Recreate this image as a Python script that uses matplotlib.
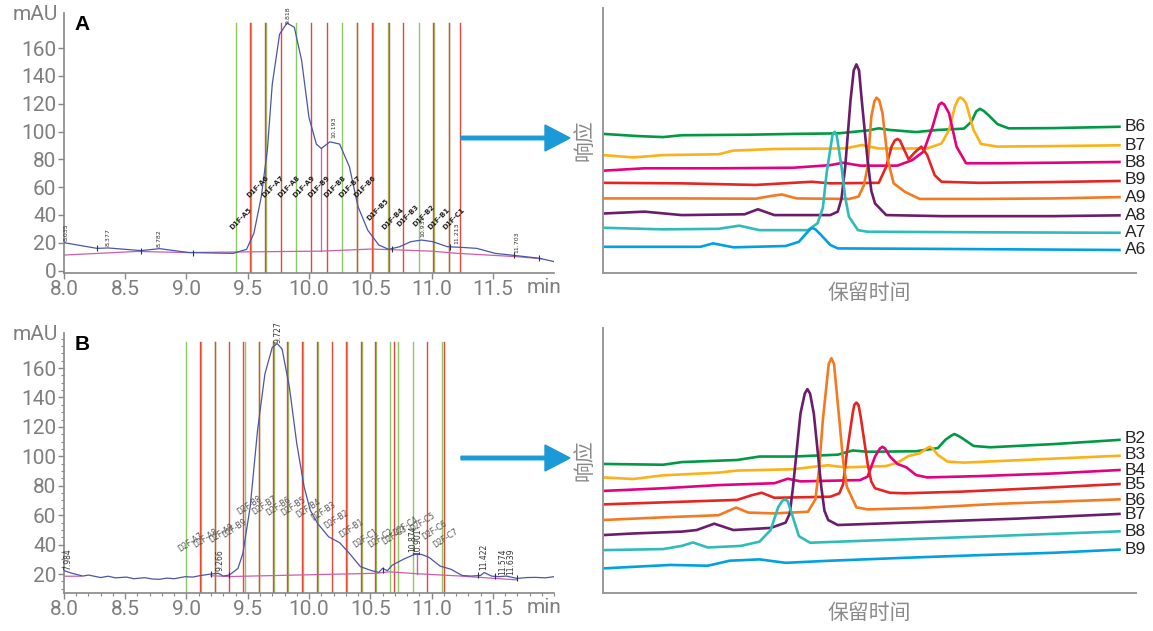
import matplotlib
matplotlib.use("Agg")
import matplotlib.pyplot as plt
from matplotlib.patches import FancyArrow
from matplotlib.ticker import MultipleLocator
import matplotlib.transforms as mtransforms

plt.rcParams['font.family'] = ['Roboto', 'Noto Sans CJK SC', 'DejaVu Sans']

# ── 数据：A 色谱 (min, mAU) ──
a_t = [8.0, 8.27, 8.36, 8.63, 8.78, 9.02, 9.38, 9.49, 9.55, 9.61, 9.66, 9.70, 9.76, 9.82,
       9.88, 9.94, 10.0, 10.06, 10.10, 10.17, 10.25, 10.33, 10.40, 10.48, 10.57, 10.65,
       10.74, 10.83, 10.92, 11.01, 11.13, 11.25, 11.37, 11.52, 11.67, 11.88, 12.0]
a_mau = [20.1, 16.0, 16.3, 14.4, 15.8, 13.0, 12.4, 15.3, 26.8, 53.0, 86.6, 134.0, 170.0, 178.0,
         175.0, 151.0, 110.0, 91.0, 87.8, 92.6, 91.0, 74.6, 46.0, 29.0, 18.4, 15.3,
         17.2, 20.8, 22.0, 20.8, 17.2, 16.7, 16.0, 12.4, 11.0, 8.9, 6.5]
a_base_t = [8.0, 8.6, 9.0, 9.5, 10.1, 10.5, 10.7, 11.0, 11.2, 11.7, 11.9]
a_base = [11.2, 13.8, 13.0, 13.5, 14.0, 15.5, 15.0, 14.0, 12.5, 10.0, 8.5]
a_green = [9.40, 9.525, 9.65, 9.895, 10.27, 10.395, 10.52, 10.645, 10.895, 11.02, 11.145]
a_red = [9.515, 9.64, 9.77, 10.02, 10.145, 10.39, 10.515, 10.65, 10.77, 11.015, 11.14, 11.235]
a_frac = ['D1F-A5', 'D1F-A6', 'D1F-A7', 'D1F-A8', 'D1F-A9', 'D1F-B9', 'D1F-B8', 'D1F-B7',
          'D1F-B6', 'D1F-B5', 'D1F-B4', 'D1F-B3', 'D1F-B2', 'D1F-B1', 'D1F-C1']
a_frac_t = [9.38, 9.52, 9.645, 9.77, 9.895, 10.02, 10.145, 10.27, 10.395, 10.50, 10.62,
            10.74, 10.87, 11.0, 11.12]
a_frac_y = [29, 52, 52, 52, 52, 52, 52, 52, 52, 35, 29, 31, 31, 29, 29]
a_rt = ['8.035', '8.377', '8.782', '9.818', '10.193', '10.931', '11.213', '11.703']
a_rt_t = [8.02, 8.36, 8.78, 9.83, 10.20, 10.93, 11.21, 11.70]
a_rt_y = [21, 18, 17, 177, 95, 24, 19, 13]
a_mark_t = [8.27, 8.63, 9.05, 10.68, 11.15, 11.67, 11.88]
a_mark_y = [16.0, 14.4, 13.0, 15.3, 17.0, 11.0, 8.9]

# ── 数据：B 色谱 ──
b_t = [8.0, 8.065, 8.155, 8.20, 8.24, 8.30, 8.36, 8.42, 8.51, 8.57, 8.66, 8.72, 8.78, 8.84,
       8.9, 8.99, 9.05, 9.11, 9.2, 9.26, 9.30, 9.35, 9.42, 9.46, 9.52, 9.58, 9.64, 9.70,
       9.74, 9.78, 9.84, 9.90, 9.96, 10.01, 10.07, 10.16, 10.25, 10.33, 10.42, 10.51, 10.57,
       10.60, 10.64, 10.68, 10.77, 10.86, 10.92, 10.98, 11.07, 11.16, 11.25, 11.32, 11.40,
       11.43, 11.49, 11.55, 11.61, 11.70, 11.78, 11.85, 11.93, 12.0]
b_mau = [22.3, 20.5, 18.6, 19.3, 18.6, 17.6, 18.5, 17.4, 17.9, 16.8, 17.5, 16.6, 16.4, 17.2,
         16.8, 18.2, 17.9, 18.9, 20.0, 20.5, 18.6, 19.3, 23.8, 34.0, 65.7, 117.7, 156.0, 174.0,
         176.6, 173.0, 147.0, 108.7, 79.3, 63.4, 54.4, 45.3, 41.3, 34.0, 25.0, 22.3, 21.1,
         23.8, 22.3, 26.0, 30.0, 33.3, 33.3, 31.3, 25.4, 23.2, 19.0, 18.6, 19.0,
         21.0, 18.6, 18.2, 18.6, 17.0, 17.6, 17.7, 17.4, 18.2]
b_base_t = [8.0, 8.14, None, 9.2, 9.36, 10.55, 10.65, 10.88, 11.22, 11.7]
b_base = [18.5, 18.5, None, 18.8, 18.3, 20.5, 21.5, 20.2, 18.7, 16.0]
b_green = [9.0, 9.12, 9.235, 9.475, 9.595, 9.715, 9.83, 9.955, 10.075, 10.31, 10.43,
           10.545, 10.665, 10.725, 10.845, 11.085]
b_red = [9.11, 9.23, 9.35, 9.465, 9.59, 9.705, 9.82, 9.945, 10.065, 10.185, 10.305,
         10.425, 10.54, 10.69, 10.965, 11.10]
b_frac = ['D2F-A7', 'D2F-A8', 'D2F-A9', 'D2F-B9', 'D2F-B8', 'D2F-B7', 'D2F-B6', 'D2F-B5',
          'D2F-B4', 'D2F-B3', 'D2F-B2', 'D2F-B1', 'D2F-C1', 'D2F-C2', 'D2F-C3', 'D2F-C4',
          'D2F-C5', 'D2F-C6', 'D2F-C7']
b_frac_t = [8.96, 9.08, 9.21, 9.32, 9.44, 9.56, 9.68, 9.80, 9.92, 10.04, 10.15, 10.27,
            10.39, 10.51, 10.62, 10.71, 10.85, 10.95, 11.04]
b_frac_y = [34, 36.3, 39.7, 43, 59, 59, 58.5, 58.5, 57, 55, 49.4, 43, 36.7, 36.3, 38.5,
            45, 47.6, 42, 36.3]
b_rt = ['7.984', '9.266', '9.727', '10.874', '10.901', '11.422', '11.574', '11.639']
b_rt_t = [8.03, 9.27, 9.745, 10.85, 10.89, 11.43, 11.585, 11.645]
b_rt_y = [23, 22, 177, 35, 33, 23, 19, 19]
b_mark_t = [9.2, 9.35, 10.6, 11.38, 11.52, 11.7]
b_mark_y = [20.0, 19.0, 22.5, 19.0, 18.5, 17.0]

# ── 数据：右侧叠加谱图（任意单位） ──
top_names = ['B6', 'B7', 'B8', 'B9', 'A9', 'A8', 'A7', 'A6']
top_label_y = [55.2, 48.2, 41.6, 35.1, 28.6, 21.8, 15.3, 8.6]
top_x = [
    [0, 6.3, 11.2, 14.7, 27.2, 35.6, 44.0, 49.6, 51.7, 53.8, 58.7, 62.8, 67.7, 69.1, 70.0, 70.7, 71.4, 72.3, 74.0, 76.1, 84.5, 96.9],
    [0, 5.6, 11.2, 21.6, 24.4, 32.1, 45.4, 48.5, 51.7, 60.8, 63.5, 64.9, 66.0, 66.6, 67.0, 67.5, 68.1, 69.5, 70.9, 74.0, 84.5, 96.9],
    [0, 7.7, 21.6, 35.6, 42.6, 45.0, 48.2, 55.2, 58.0, 60.1, 61.8, 63.0, 63.5, 64.0, 64.9, 66.3, 68.1, 74.0, 84.5, 96.9],
    [0, 14.7, 28.6, 39.1, 42.6, 51.7, 53.1, 54.1, 54.7, 55.2, 55.7, 56.2, 57.3, 58.4, 59.7, 60.8, 62.2, 63.5, 70.5, 84.5, 96.9],
    [0, 14.7, 28.6, 31.4, 33.5, 36.3, 46.1, 47.9, 48.9, 49.6, 50.3, 50.9, 51.3, 51.8, 52.4, 53.4, 54.5, 56.6, 59.4, 70.5, 84.5, 96.9],
    [0, 7.7, 14.7, 26.5, 29.0, 32.1, 42.6, 44.0, 44.7, 45.4, 46.4, 47.0, 47.5, 48.0, 48.5, 49.6, 50.3, 51.0, 53.1, 63.5, 84.5, 96.9],
    [0, 11.2, 21.6, 25.5, 29.3, 38.4, 40.2, 41.2, 41.9, 43.0, 43.4, 43.8, 44.7, 45.4, 46.1, 47.8, 49.6, 70.5, 96.9],
    [0, 18.2, 20.6, 24.4, 34.2, 36.7, 38.1, 38.9, 39.3, 39.8, 40.9, 42.6, 44.0, 63.5, 96.9],
]
top_y = [
    [52.5, 51.7, 51.3, 52.0, 52.2, 52.5, 52.7, 53.8, 54.6, 54.0, 53.2, 54.0, 54.5, 57.1, 61.0, 62.0, 61.2, 59.6, 56.2, 54.6, 54.7, 55.2],
    [44.5, 43.6, 44.5, 44.8, 46.2, 46.8, 47.0, 48.3, 47.0, 47.0, 48.9, 54.0, 62.8, 65.6, 66.3, 65.7, 64.1, 54.0, 48.7, 47.7, 47.9, 48.2],
    [38.6, 39.5, 39.5, 39.7, 40.7, 41.6, 40.5, 40.5, 42.6, 45.8, 55.2, 63.5, 64.3, 63.6, 60.3, 47.7, 41.4, 41.4, 41.6, 41.9],
    [34.0, 33.8, 33.2, 34.4, 33.8, 34.0, 40.1, 47.7, 50.0, 50.6, 50.0, 47.7, 42.9, 45.4, 47.7, 44.5, 36.9, 34.4, 34.0, 34.3, 34.7],
    [28.1, 28.1, 28.0, 29.0, 29.6, 28.1, 27.9, 28.8, 33.0, 40.1, 59.0, 65.0, 66.2, 65.2, 60.3, 42.6, 33.8, 30.6, 27.9, 27.9, 28.1, 28.6],
    [22.4, 23.1, 21.8, 22.1, 24.0, 21.8, 21.8, 23.1, 28.0, 40.1, 65.3, 76.5, 78.8, 76.5, 65.3, 42.6, 31.0, 26.2, 21.8, 21.4, 21.4, 21.7],
    [17.0, 16.4, 16.6, 17.8, 16.1, 16.1, 18.7, 24.5, 37.6, 52.0, 53.3, 52.0, 40.1, 28.5, 21.2, 16.1, 15.5, 15.3, 15.1],
    [9.8, 9.8, 11.1, 9.6, 10.1, 11.7, 14.9, 16.6, 16.9, 16.4, 14.2, 10.5, 9.2, 9.0, 8.6],
]
bot_names = ['B2', 'B3', 'B4', 'B5', 'B6', 'B7', 'B8', 'B9']
bot_label_y = [58.4, 52.1, 46.2, 40.8, 35.0, 29.4, 23.1, 16.4]
bot_x = [
    [0, 11.2, 14.7, 25.1, 29.3, 35.6, 44.0, 46.8, 49.6, 58.7, 62.8, 64.2, 65.3, 65.9, 66.5, 67.4, 69.5, 72.6, 84.5, 96.9],
    [0, 5.6, 11.2, 21.6, 25.1, 35.6, 39.8, 42.2, 45.4, 53.1, 55.2, 57.3, 59.4, 60.8, 61.3, 61.8, 62.8, 64.6, 67.7, 81.0, 96.9],
    [0, 11.2, 21.6, 32.1, 34.6, 37.0, 48.2, 49.6, 51.0, 51.9, 52.4, 52.9, 53.8, 55.2, 56.9, 58.7, 60.8, 70.5, 84.5, 96.9],
    [0, 14.7, 25.1, 27.9, 29.7, 32.1, 42.6, 44.3, 45.0, 45.7, 46.8, 47.1, 47.5, 47.9, 48.3, 49.6, 50.3, 51.0, 53.8, 56.6, 67.0, 81.0, 96.9],
    [0, 11.2, 21.6, 24.9, 27.2, 32.1, 38.4, 39.8, 40.5, 41.2, 42.3, 42.8, 43.3, 44.3, 45.0, 45.7, 47.5, 49.6, 60.1, 74.0, 96.9],
    [0, 5.6, 14.7, 17.5, 20.8, 24.4, 31.4, 34.2, 35.0, 35.6, 37.0, 37.8, 38.3, 38.8, 39.5, 40.9, 41.5, 42.2, 44.0, 56.6, 77.5, 96.9],
    [0, 11.2, 14.7, 16.8, 19.6, 25.8, 29.3, 31.4, 32.8, 33.6, 34.1, 34.6, 35.3, 36.7, 38.8, 49.6, 70.5, 96.9],
    [0, 12.6, 19.6, 23.7, 29.3, 34.2, 42.6, 56.6, 70.5, 84.5, 96.9],
]
bot_y = [
    [48.7, 48.4, 49.4, 50.2, 51.5, 51.5, 52.2, 53.8, 53.3, 53.5, 54.7, 57.8, 59.4, 60.0, 59.5, 58.4, 55.5, 55.0, 56.2, 57.8],
    [43.6, 43.0, 44.4, 45.4, 46.2, 46.7, 47.7, 48.2, 47.4, 47.9, 49.2, 51.7, 52.7, 54.7, 55.2, 54.6, 52.1, 49.6, 49.2, 50.4, 51.8],
    [38.5, 39.5, 40.7, 41.4, 43.1, 42.1, 42.6, 43.9, 51.5, 54.5, 55.2, 54.5, 51.5, 48.7, 47.4, 44.5, 43.6, 44.1, 45.1, 46.4],
    [33.4, 34.4, 35.1, 36.9, 37.8, 35.9, 36.3, 37.6, 41.0, 52.7, 67.8, 71.0, 71.9, 71.0, 66.6, 48.9, 42.0, 39.5, 37.8, 37.6, 38.2, 39.5, 41.1],
    [27.5, 28.5, 29.3, 32.2, 30.3, 30.0, 30.6, 35.3, 47.0, 65.3, 86.5, 88.7, 86.5, 65.3, 50.0, 40.1, 32.3, 31.5, 32.1, 33.6, 35.3],
    [21.8, 22.4, 23.1, 23.7, 26.1, 23.7, 24.5, 26.5, 30.0, 40.1, 67.8, 75.3, 77.0, 75.3, 67.8, 40.1, 31.0, 27.5, 25.6, 26.5, 28.0, 29.8],
    [16.1, 16.5, 17.7, 19.0, 17.1, 17.7, 19.3, 23.7, 32.3, 34.8, 35.3, 34.6, 30.3, 21.4, 18.9, 19.7, 21.2, 23.2],
    [9.2, 10.5, 10.2, 12.1, 12.6, 11.3, 12.1, 13.2, 14.2, 15.1, 16.3],
]
trace_colors = ['#009a44', '#fbb117', '#e5007d', '#e52521', '#f37a21', '#6b1d6b', '#2dbdb6', '#00a0e3']

GRAY = '#7f7f7f'
NAN = float('nan')
fig = plt.figure(figsize=(11.53, 6.31), dpi=100)


def chrom_axes(rect, t, mau, base_t, base, greens, reds, ylim, yticks, minor):
    ax = fig.add_axes(rect)
    for g in greens:
        ax.plot([g, g], [ylim[0], 178], color='#8cc863', lw=1.0, zorder=1)
    for r in reds:
        ax.plot([r, r], [ylim[0], 178], color='#e8473a', lw=1.0, zorder=1)
    bt = [NAN if v is None else v for v in base_t]
    bv = [NAN if v is None else v for v in base]
    ax.plot(bt, bv, color='#cc5fa8', lw=0.9, zorder=2)
    ax.plot(t, mau, color='#4a56a8', lw=0.9, zorder=3)
    ax.set_xlim(8.0, 12.0)
    ax.set_ylim(*ylim)
    ax.set_yticks(yticks)
    ax.set_xticks([8.0, 8.5, 9.0, 9.5, 10.0, 10.5, 11.0, 11.5])
    ax.set_xticklabels(['8.0', '8.5', '9.0', '9.5', '10.0', '10.5', '11.0', '11.5'])
    if minor:
        ax.xaxis.set_minor_locator(MultipleLocator(0.1))
        ax.yaxis.set_minor_locator(MultipleLocator(5))
    for s in ['top', 'right']:
        ax.spines[s].set_visible(False)
    for s in ['left', 'bottom']:
        ax.spines[s].set_color('#888888')
        ax.spines[s].set_linewidth(1.2)
    ax.tick_params(which='major', length=4, width=1, color='#888888', labelsize=15,
                   labelcolor=GRAY, pad=1.5)
    ax.tick_params(which='minor', length=2, width=0.8, color='#888888')
    trans = mtransforms.blended_transform_factory(ax.transAxes, ax.transData)
    ax.text(-0.013, ylim[1] - 1, 'mAU', transform=trans, ha='right', va='center',
            fontsize=15, color=GRAY, clip_on=False)
    transx = mtransforms.blended_transform_factory(ax.transData, ax.transAxes)
    ax.text(11.92, -0.02, 'min', transform=transx, ha='center', va='top',
            fontsize=15, color=GRAY)
    return ax


# ── A ──
axA = chrom_axes([0.0555, 0.5678, 0.425, 0.4111], a_t, a_mau, a_base_t, a_base,
                 a_green, a_red, (-1.5, 185), [0, 20, 40, 60, 80, 100, 120, 140, 160], False)
axA.plot([10.1, 10.1], [14, 88], color='#cc5fa8', lw=0.9, zorder=2)
axA.plot(a_mark_t, a_mark_y, ls='none', marker='|', color='#333333', ms=4, mew=0.8, zorder=4)
for s, t, y in zip(a_frac, a_frac_t, a_frac_y):
    axA.text(t, y, s, rotation=45, rotation_mode='anchor', ha='left', va='bottom',
             fontsize=5, fontweight='bold', color='#222222', family='DejaVu Sans', zorder=5)
for s, t, y in zip(a_rt, a_rt_t, a_rt_y):
    axA.text(t, y, s, rotation=90, ha='center', va='bottom', fontsize=4.5, color='#333333',
             family='DejaVu Sans', zorder=5)
axA.text(0.022, 0.955, 'A', transform=axA.transAxes, ha='left', va='center',
         fontsize=15, fontweight='bold', color='black', family='Liberation Sans')

# ── B ──
axB = chrom_axes([0.0555, 0.0607, 0.425, 0.412], b_t, b_mau, b_base_t, b_base,
                 b_green, b_red, (7.3, 184), [20, 40, 60, 80, 100, 120, 140, 160], True)
axB.plot([10.88, 10.88], [20.2, 33], color='#cc5fa8', lw=1.0, zorder=2)
axB.plot(b_mark_t, b_mark_y, ls='none', marker='|', color='#333333', ms=4, mew=0.8, zorder=4)
for s, t, y in zip(b_frac, b_frac_t, b_frac_y):
    axB.text(t, y, s, rotation=33, rotation_mode='anchor', ha='left', va='bottom',
             fontsize=5.5, color='#555555', family='DejaVu Sans', zorder=5)
for s, t, y in zip(b_rt, b_rt_t, b_rt_y):
    axB.text(t, y, s, rotation=90, ha='center', va='bottom', fontsize=5.5, color='#333333',
             family='DejaVu Sans', zorder=5)
axB.text(0.022, 0.955, 'B', transform=axB.transAxes, ha='left', va='center',
         fontsize=15, fontweight='bold', color='black', family='Liberation Sans')


# ── 右侧叠加图 ──
def overlay_axes(rect, names, label_y, xs, ys):
    ax = fig.add_axes(rect)
    for name, ly, x, y, c in zip(names, label_y, xs, ys, trace_colors):
        ax.plot(x, y, color=c, lw=1.9, solid_joinstyle='round')
        ax.text(x[-1] + 1.0, ly, name, ha='left', va='center', fontsize=12.5,
                color='#222222', family='Liberation Sans')
    ax.set_xlim(0, 100)
    ax.set_ylim(0, 100)
    ax.set_xticks([])
    ax.set_yticks([])
    for s in ['top', 'right']:
        ax.spines[s].set_visible(False)
    for s in ['left', 'bottom']:
        ax.spines[s].set_color('#999999')
        ax.spines[s].set_linewidth(1.4)
    ax.text(-0.035, 0.5, '响应', transform=ax.transAxes, rotation=90, ha='center',
            va='center', fontsize=15, color='#8a8a8a', family='Noto Sans CJK SC')
    ax.text(0.5, -0.075, '保留时间', transform=ax.transAxes, ha='center', va='center',
            fontsize=15, color='#8a8a8a', family='Noto Sans CJK SC')
    return ax


overlay_axes([0.5234, 0.5678, 0.4618, 0.419], top_names, top_label_y, top_x, top_y)
overlay_axes([0.5234, 0.0607, 0.4618, 0.419], bot_names, bot_label_y, bot_x, bot_y)

# ── 箭头 ──
for yin in [4.93, 1.73]:
    fig.patches.append(FancyArrow(4.61, yin, 1.09, 0, width=0.035, head_width=0.26,
                                  head_length=0.25, length_includes_head=True,
                                  color='#1a9ad6', transform=fig.dpi_scale_trans,
                                  figure=fig))

fig.savefig('out.png', dpi=100)
